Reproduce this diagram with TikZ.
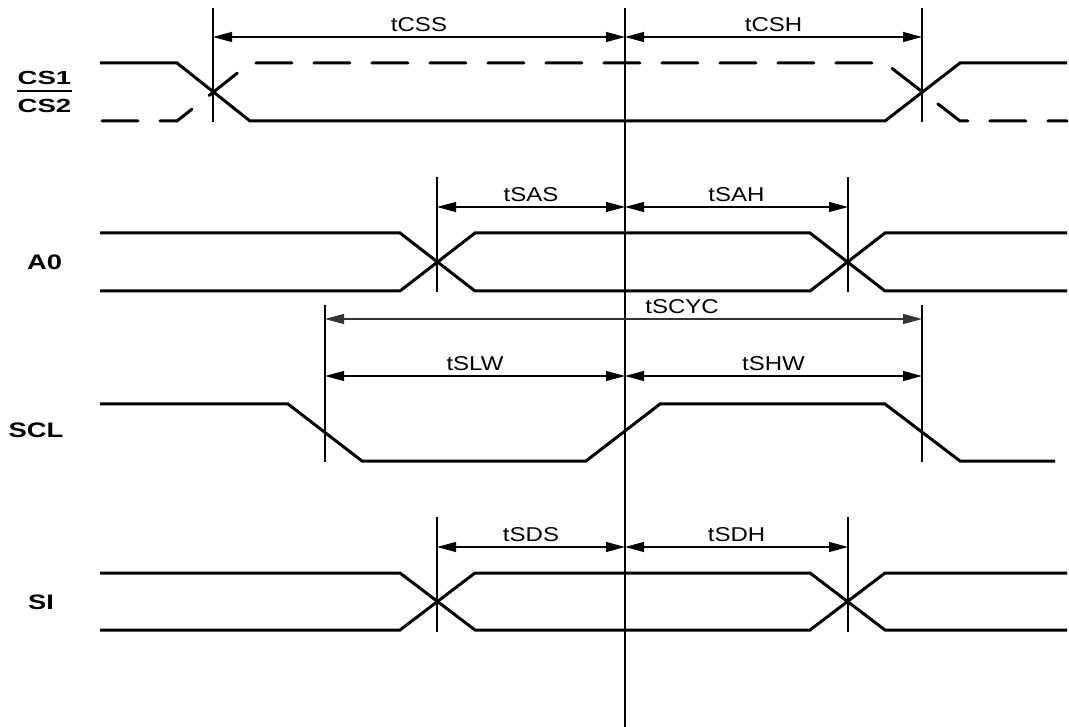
\documentclass[tikz,border=0pt]{standalone}
\usepackage{fontspec}
\setmainfont{Liberation Sans}
\usetikzlibrary{arrows.meta}
\begin{document}
\begin{tikzpicture}[x=1pt,y=-1pt,
  sig/.style={line width=3pt, line join=miter},
  dsig/.style={line width=3pt, dash pattern=on 36pt off 22pt, line cap=round},
  guide/.style={line width=1.1pt},
  dim/.style={line width=1.1pt, {Triangle[length=19pt,width=10pt]}-{Triangle[length=19pt,width=10pt]}},
  lbl/.style={font=\fontsize{20}{23}\selectfont, inner sep=0pt, xscale=1.2},
  sname/.style={font=\bfseries\fontsize{21}{24}\selectfont, inner sep=0pt, xscale=1.3},
  csname/.style={font=\bfseries\fontsize{19}{22}\selectfont, inner sep=0pt, xscale=1.45}]
\useasboundingbox (0,0) rectangle (1069,727);
\fill[white] (0,0) rectangle (1069,727);

% guide coordinates
\coordinate (c0) at (625,8);   \coordinate (c1) at (625,727);
\coordinate (v1a) at (213,8);  \coordinate (v1b) at (213,122);
\coordinate (v2a) at (922,8);  \coordinate (v2b) at (922,122);
\coordinate (v3a) at (437,177); \coordinate (v3b) at (437,292);
\coordinate (v4a) at (848,177); \coordinate (v4b) at (848,292);
\coordinate (v5a) at (325,305); \coordinate (v5b) at (325,462);
\coordinate (v6a) at (922,305); \coordinate (v6b) at (922,462);
\coordinate (v7a) at (437,517); \coordinate (v7b) at (437,632);
\coordinate (v8a) at (848,517); \coordinate (v8b) at (848,632);

\draw[guide] (c0) -- (c1);
\foreach \i in {1,...,8} {\draw[guide] (v\i a) -- (v\i b);}

% dimension arrows
\coordinate (dCSSa) at (213,37); \coordinate (dCSSb) at (625,37); \coordinate (dCSHb) at (922,37);
\draw[dim] (dCSSa) -- node[lbl, above=5pt] (tcss) {tCSS} (dCSSb);
\draw[dim] (dCSSb) -- node[lbl, above=5pt] (tcsh) {tCSH} (dCSHb);

\coordinate (dSASa) at (437,207); \coordinate (dSASb) at (625,207); \coordinate (dSAHb) at (848,207);
\draw[dim] (dSASa) -- node[lbl, above=5pt] (tsas) {tSAS} (dSASb);
\draw[dim] (dSASb) -- node[lbl, above=5pt] (tsah) {tSAH} (dSAHb);

\coordinate (dCYa) at (325,319); \coordinate (dCYb) at (922,319);
\draw[dim, black!80] (dCYa) -- (dCYb);
\node[lbl, anchor=south] (tscyc) at (682,314) {tSCYC};

\coordinate (dSLWa) at (325,376); \coordinate (dSLWb) at (625,376); \coordinate (dSHWb) at (922,376);
\draw[dim] (dSLWa) -- node[lbl, above=5pt] (tslw) {tSLW} (dSLWb);
\draw[dim] (dSLWb) -- node[lbl, above=5pt] (tshw) {tSHW} (dSHWb);

\coordinate (dSDSa) at (437,547); \coordinate (dSDSb) at (625,547); \coordinate (dSDHb) at (848,547);
\draw[dim] (dSDSa) -- node[lbl, above=5pt] (tsds) {tSDS} (dSDSb);
\draw[dim] (dSDSb) -- node[lbl, above=5pt] (tsdh) {tSDH} (dSDHb);

% CS signals
\draw[sig] (100,63) -- (177,63) -- (250,121) -- (885,121) -- (960,63) -- (1067,63);
\draw[dsig] (102,121) -- (177,121) -- (250,63) -- (885,63) -- (960,121) -- (1067,121);

% A0
\draw[sig] (100,233) -- (400,233) -- (475,291) -- (810,291) -- (885,233) -- (1067,233);
\draw[sig] (100,291) -- (400,291) -- (475,233) -- (810,233) -- (885,291) -- (1067,291);

% SCL
\draw[sig] (100,404) -- (288,404) -- (362,461) -- (586,461) -- (660,404) -- (885,404) -- (960,461) -- (1055,461);

% SI
\draw[sig] (100,573) -- (400,573) -- (475,630) -- (810,630) -- (885,573) -- (1067,573);
\draw[sig] (100,630) -- (400,630) -- (475,573) -- (810,573) -- (885,630) -- (1067,630);

% signal names
\node[csname] (ncs1) at (44.5,78) {CS1};
\draw[line width=1.5pt] (17,91) -- (72,91);
\node[csname] (ncs2) at (44.5,106) {CS2};
\node[sname] (na0) at (44.5,262) {A0};
\node[sname] (nscl) at (36,430) {SCL};
\node[sname] (nsi) at (41,602) {SI};
\end{tikzpicture}
\end{document}
